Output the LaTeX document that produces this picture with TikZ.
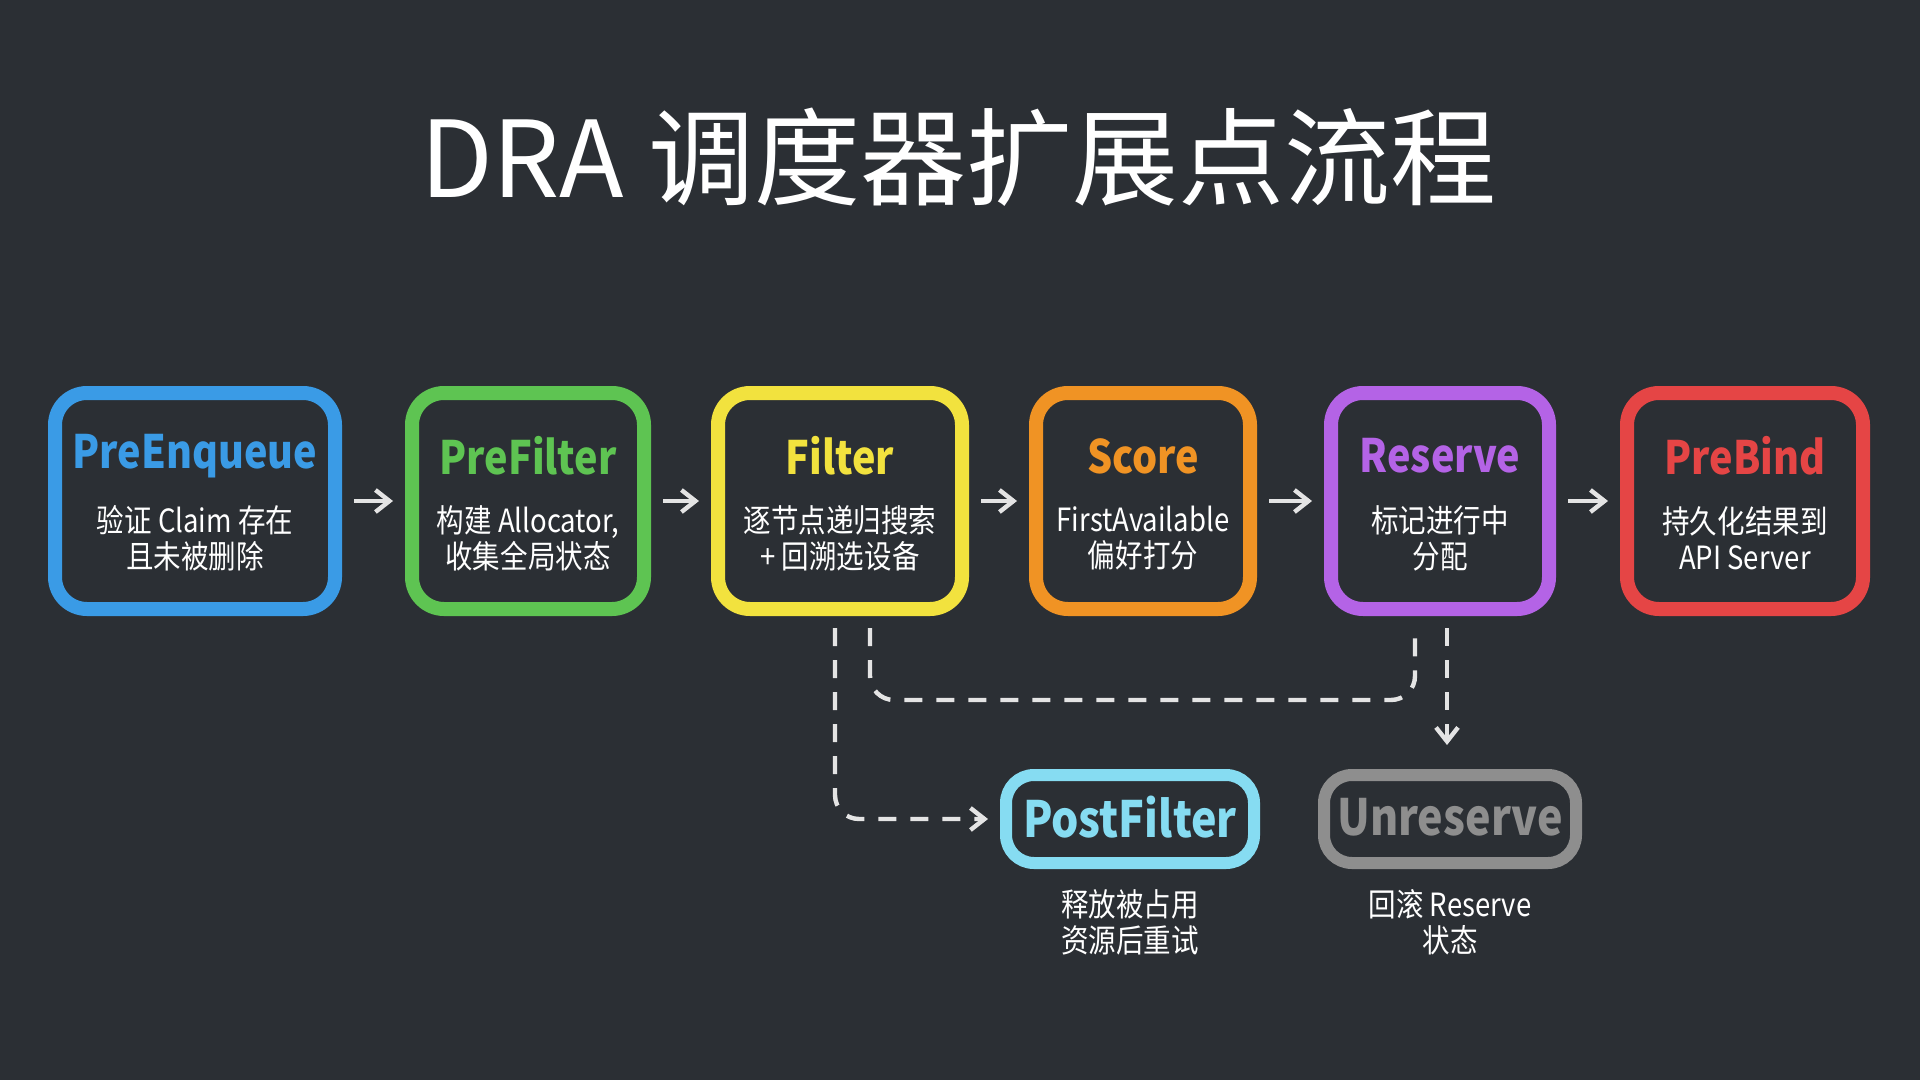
\documentclass[tikz,border=0pt]{standalone}
\usepackage{fontspec}
\setmainfont{Noto Sans CJK SC}
\newfontfamily\condf[FakeStretch=0.86]{Noto Sans CJK SC}
\usetikzlibrary{arrows.meta}
\definecolor{bg}{HTML}{2B2F34}
\definecolor{cb}{HTML}{3A9BE6}
\definecolor{cg}{HTML}{5EC452}
\definecolor{cy}{HTML}{F2E23E}
\definecolor{co}{HTML}{F09324}
\definecolor{cp}{HTML}{B463E6}
\definecolor{cr}{HTML}{E54545}
\definecolor{cc}{HTML}{86DCF2}
\definecolor{cgr}{HTML}{8E8E8E}
\definecolor{chalk}{HTML}{E4E4E4}
\tikzset{
 stage/.style={draw=#1, line width=7pt, rounded corners=16pt, minimum height=108pt, align=center, inner sep=0pt, fill=bg},
 head/.style={text=#1, font=\condf\fontsize{23}{26}\selectfont\bfseries},
 sub/.style={text=white, font=\condf\fontsize{16}{18}\selectfont, align=center},
 tip/.style={-{Straight Barb[length=7pt,width=11pt,line width=2.2pt]}},
 conn/.style={draw=chalk, line width=2.2pt, tip},
 dconn/.style={draw=chalk, line width=2.2pt, dash pattern=on 9pt off 7pt, rounded corners=12pt},
}
\begin{document}
\begin{tikzpicture}[x=0.5pt,y=-0.5pt]
\fill[bg] (0,0) rectangle (1920,1080);
\node[text=white, font=\fontsize{53}{58}\selectfont] (title) at (958,157) {DRA 调度器扩展点流程};
\newcommand\stagebox[6]{%
 \node[stage=#4, minimum width=#3] (#1) at (#2,501) {};
 \node[head=#4] (#1h) at (#2,456) {#5};
 \node[sub] (#1s) at (#2,538) {#6};}
\stagebox{pe}{195}{140pt}{cb}{PreEnqueue}{验证 Claim 存在\\且未被删除}
\stagebox{pf}{528}{116pt}{cg}{PreFilter}{构建 Allocator,\\收集全局状态}
\stagebox{fi}{840}{122pt}{cy}{Filter}{逐节点递归搜索\\+ 回溯选设备}
\stagebox{sc}{1143}{107pt}{co}{Score}{FirstAvailable\\偏好打分}
\stagebox{re}{1440}{109pt}{cp}{Reserve}{标记进行中\\分配}
\stagebox{pb}{1745}{118pt}{cr}{PreBind}{持久化结果到\\API Server}
\node[stage=cc, minimum width=124pt, minimum height=44pt, rounded corners=14pt, line width=6pt] (pof) at (1130,819) {};
\node[head=cc, font=\condf\fontsize{25}{28}\selectfont\bfseries] (pofh) at (1130,817) {PostFilter};
\node[stage=cgr, minimum width=126pt, minimum height=44pt, rounded corners=14pt, line width=6pt] (unr) at (1450,819) {};
\node[head=cgr, font=\condf\fontsize{25}{28}\selectfont\bfseries] (unrh) at (1450,817) {Unreserve};
\node[sub] (pofs) at (1130,922) {释放被占用\\资源后重试};
\node[sub] (unrs) at (1450,922) {回滚 Reserve\\状态};
\foreach \a/\b in {pe/pf,pf/fi,fi/sc,sc/re,re/pb}
 \draw[conn, shorten <=6pt, shorten >=6pt] (\a.east) -- (\b.west);
\coordinate (f1) at (835,628);
\coordinate (f2) at (870,628);
\coordinate (r1) at (1415,628);
\coordinate (r2) at (1447,628);
\draw[dconn, tip, shorten >=6pt] (f1) |- (pof.west);
\draw[dconn] (f2) -- (870,700) -- (1415,700) -- (r1);
\draw[dconn, tip, shorten >=12pt] (r2) -- (r2 |- unr.north);
\end{tikzpicture}
\end{document}
